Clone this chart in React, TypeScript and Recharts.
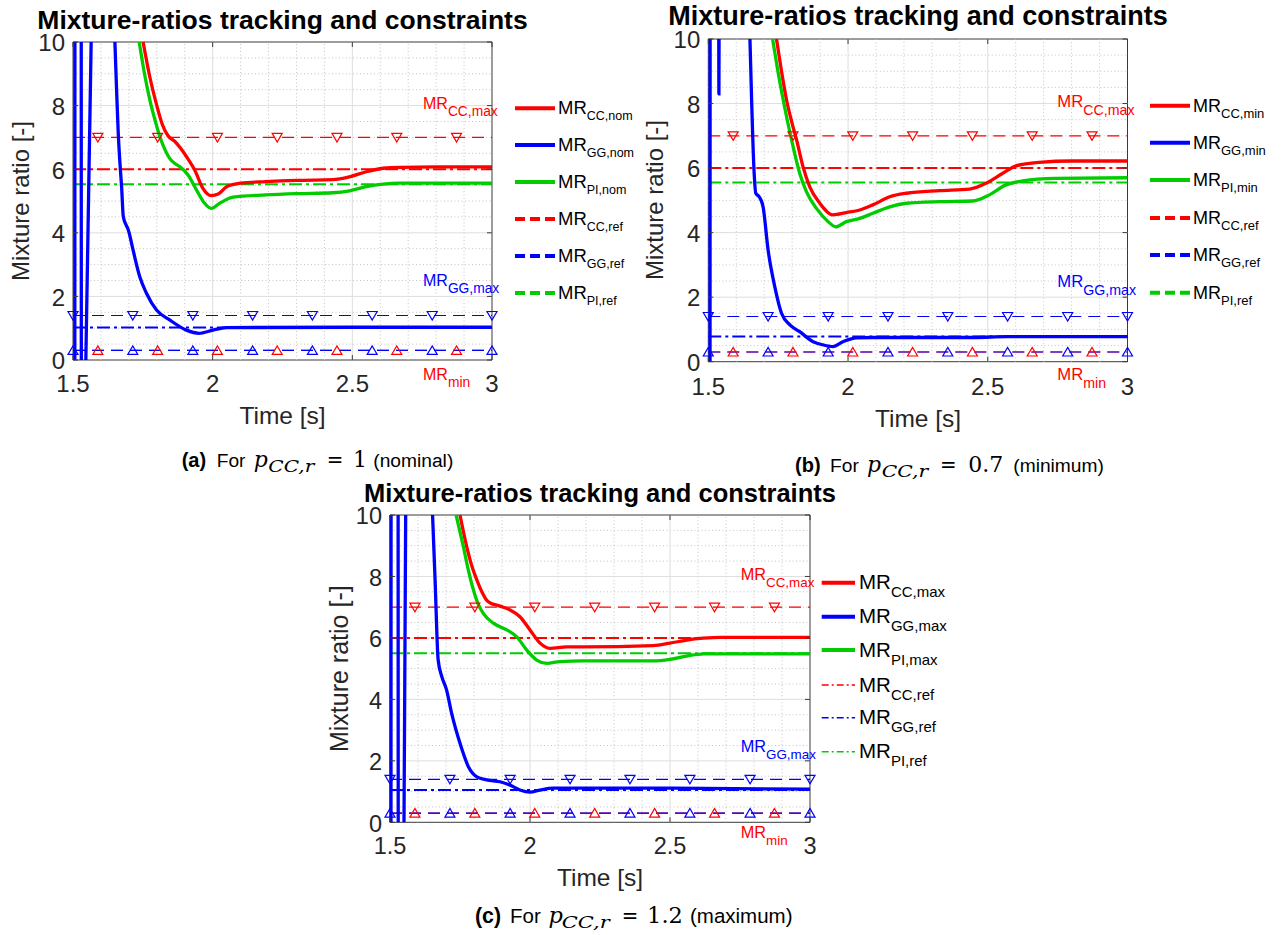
import React from 'react';
import { LineChart, Line, XAxis, YAxis, ReferenceLine, ReferenceArea } from 'recharts';

const RED = '#ff0000';
const BLUE = '#0000ff';
const GREEN = '#00cc00';
const AXIS = '#3a3a3a';
const TICK = '#262626';
const GRID_MAJOR = '#dedede';
const GRID_MINOR = '#c4c4c4';
const SANS = '"Liberation Sans", Arial, Helvetica, sans-serif';
const SERIF = '"DejaVu Serif", "Liberation Serif", serif';

// ---- axes ----
const X_DOMAIN = [1.5, 3];
const Y_DOMAIN = [0, 10];
const X_TICKS = [1.5, 2, 2.5, 3];
const Y_TICKS = [0, 2, 4, 6, 8, 10];
const X_MAJOR_GRID = [2, 2.5];
const Y_MAJOR_GRID = [2, 4, 6, 8];
const X_MINOR_GRID = [1.6, 1.7, 1.8, 1.9, 2.1, 2.2, 2.3, 2.4, 2.6, 2.7, 2.8, 2.9];
const Y_MINOR_GRID = [0.5, 1, 1.5, 2.5, 3, 3.5, 4.5, 5, 5.5, 6.5, 7, 7.5, 8.5, 9, 9.5];

// ---- constraints ----
const MR_CC_MAX = 7;
const MR_GG_MAX = 1.4;
const MR_MIN = 0.3;
const CONSTRAINT_T = [1.5, 3];
const CC_MARKER_T = [1.589, 1.803, 2.017, 2.231, 2.445, 2.659, 2.873];
const GG_MARKER_T = [1.5, 1.714, 1.929, 2.143, 2.357, 2.571, 2.786, 3.0];

// ---- panel (a) nominal ----
const A_REF_CC = 6.0;
const A_REF_GG = 1.02;
const A_REF_PI = 5.53;
const A_CC_T = [1.751, 1.775, 1.8, 1.82, 1.84, 1.864, 1.886, 1.906, 1.936, 1.965, 1.995, 2.02, 2.05, 2.1, 2.19, 2.3, 2.43, 2.49, 2.55, 2.61, 2.67, 2.8, 3.0];
const A_CC_V = [10, 8.9, 8.0, 7.4, 7.05, 6.88, 6.65, 6.4, 5.97, 5.4, 5.17, 5.22, 5.45, 5.56, 5.61, 5.65, 5.67, 5.76, 5.92, 6.03, 6.06, 6.07, 6.07];
const A_PI_T = [1.737, 1.756, 1.775, 1.795, 1.811, 1.83, 1.846, 1.865, 1.882, 1.912, 1.942, 1.971, 1.995, 2.025, 2.073, 2.19, 2.3, 2.43, 2.49, 2.55, 2.61, 2.67, 3.0];
const A_PI_V = [10, 9.0, 8.18, 7.5, 7.02, 6.6, 6.34, 6.18, 6.08, 5.82, 5.35, 4.93, 4.77, 4.93, 5.12, 5.19, 5.23, 5.26, 5.32, 5.45, 5.53, 5.56, 5.56];
const A_GG_T = [1.5065, 1.5068, 1.518, 1.5295, 1.5298, 1.538, 1.546, 1.565, 1.6, 1.65, 1.656, 1.662, 1.668, 1.674, 1.68, 1.69, 1.698, 1.715, 1.739, 1.763, 1.799, 1.846, 1.906, 1.951, 2.001, 2.049, 2.5, 3.0];
const A_GG_V = [0, 10, null, 10, 0, null, 0, 10, null, 10, 8.5, 7.13, 6.2, 5.45, 4.51, 4.25, 4.09, 3.46, 2.62, 2.1, 1.57, 1.26, 0.94, 0.84, 0.94, 1.02, 1.03, 1.03];

// ---- panel (b) minimum ----
const B_REF_CC = 6.0;
const B_REF_GG = 0.78;
const B_REF_PI = 5.55;
const B_CC_T = [1.744, 1.762, 1.78, 1.798, 1.816, 1.839, 1.863, 1.899, 1.946, 1.994, 2.042, 2.089, 2.149, 2.209, 2.328, 2.435, 2.494, 2.554, 2.601, 2.684, 2.8, 3.0];
const B_CC_V = [10, 9.0, 8.11, 7.45, 6.87, 6.04, 5.42, 4.91, 4.55, 4.62, 4.7, 4.86, 5.11, 5.22, 5.3, 5.35, 5.53, 5.84, 6.07, 6.18, 6.22, 6.22];
const B_PI_T = [1.73, 1.749, 1.768, 1.798, 1.827, 1.851, 1.887, 1.929, 1.956, 1.994, 2.042, 2.089, 2.149, 2.209, 2.328, 2.446, 2.506, 2.565, 2.625, 2.74, 3.0];
const B_PI_V = [10, 9.0, 8.11, 6.87, 5.84, 5.27, 4.75, 4.34, 4.18, 4.34, 4.44, 4.6, 4.8, 4.91, 4.96, 4.98, 5.17, 5.48, 5.6, 5.68, 5.7];
const B_GG_T = [1.5062, 1.5065, 1.52, 1.5375, 1.538, 1.5385, 1.6, 1.649, 1.655, 1.663, 1.67, 1.682, 1.696, 1.714, 1.738, 1.762, 1.792, 1.827, 1.875, 1.911, 1.946, 1.982, 2.03, 2.09, 2.45, 2.57, 3.0];
const B_GG_V = [0, 10, null, 10, 8.3, 10, null, 10, 8.11, 6.04, 5.22, 5.11, 4.8, 3.46, 2.32, 1.5, 1.14, 0.93, 0.62, 0.52, 0.47, 0.62, 0.74, 0.75, 0.75, 0.78, 0.78];

// ---- panel (c) maximum ----
const C_REF_CC = 6.0;
const C_REF_GG = 1.05;
const C_REF_PI = 5.5;
const C_CC_T = [1.75, 1.774, 1.792, 1.81, 1.828, 1.845, 1.862, 1.881, 1.905, 1.929, 1.964, 2.0, 2.036, 2.071, 2.131, 2.19, 2.44, 2.5, 2.56, 2.619, 2.68, 3.0];
const C_CC_V = [10, 8.97, 8.35, 7.89, 7.5, 7.23, 7.12, 7.07, 7.0, 6.91, 6.69, 6.26, 5.83, 5.66, 5.71, 5.71, 5.75, 5.83, 5.93, 5.99, 6.02, 6.02];
const C_PI_T = [1.736, 1.762, 1.78, 1.798, 1.815, 1.833, 1.869, 1.917, 1.952, 1.988, 2.024, 2.06, 2.107, 2.19, 2.44, 2.5, 2.56, 2.62, 3.0];
const C_PI_V = [10, 8.97, 8.2, 7.56, 7.1, 6.8, 6.48, 6.26, 6.04, 5.61, 5.28, 5.17, 5.23, 5.25, 5.25, 5.3, 5.41, 5.48, 5.48];
const C_GG_T = [1.5035, 1.5038, 1.516, 1.529, 1.5293, 1.54, 1.55, 1.556, 1.6, 1.652, 1.661, 1.672, 1.685, 1.702, 1.72, 1.75, 1.78, 1.81, 1.845, 1.893, 1.929, 1.964, 2.0, 2.036, 2.083, 2.44, 3.0];
const C_GG_V = [0, 10, null, 10, 0, null, 0, 10, null, 10, 7.89, 5.28, 4.74, 4.31, 3.55, 2.57, 1.81, 1.48, 1.38, 1.32, 1.21, 1.05, 0.98, 1.05, 1.11, 1.11, 1.08];

const pts = (t: number[], v: (number | null)[]) => t.map((x, i) => ({ x, y: v[i] }));
const flat = (t: number[], value: number) => t.map((x) => ({ x, y: value }));

const triDown = (color: string) => (props: any) => {
  const { cx, cy, index } = props;
  if (cx == null || cy == null) return <g key={`n${index}`} />;
  return (
    <path key={`td${index}`} d={`M${cx - 5},${cy - 4} L${cx + 5},${cy - 4} L${cx},${cy + 4.6} Z`}
      fill="none" stroke={color} strokeWidth={1.2} />
  );
};
const triUp = (color: string) => (props: any) => {
  const { cx, cy, index } = props;
  if (cx == null || cy == null) return <g key={`n${index}`} />;
  return (
    <path key={`tu${index}`} d={`M${cx - 5},${cy + 4} L${cx + 5},${cy + 4} L${cx},${cy - 4.6} Z`}
      fill="none" stroke={color} strokeWidth={1.2} />
  );
};

const DASH = '12 7';
const DASHDOT = '13 4 3 4';

function Panel(p: any) {
  const plotW = p.plot.r - p.plot.l;
  const plotH = p.plot.b - p.plot.t;
  const xTick = (props: any) => {
    const { x, y, payload } = props;
    return (
      <g>
        <line x1={x} x2={x} y1={y} y2={y - 5} stroke={AXIS} strokeWidth={1} />
        <line x1={x} x2={x} y1={y - plotH} y2={y - plotH + 5} stroke={AXIS} strokeWidth={1} />
        <text x={x} y={y + p.xTickDy} textAnchor="middle" fontSize={p.tickFs} fill={TICK} fontFamily={SANS}>
          {String(payload.value)}
        </text>
      </g>
    );
  };
  const yTick = (props: any) => {
    const { x, y, payload } = props;
    return (
      <g>
        <line x1={x} x2={x + 5} y1={y} y2={y} stroke={AXIS} strokeWidth={1} />
        <line x1={x + plotW} x2={x + plotW - 5} y1={y} y2={y} stroke={AXIS} strokeWidth={1} />
        <text x={x - 8} y={y + 9.3} textAnchor="end" fontSize={p.tickFs} fill={TICK} fontFamily={SANS}>
          {String(payload.value)}
        </text>
      </g>
    );
  };
  const common = { dataKey: 'y', dot: false, activeDot: false, isAnimationActive: false, legendType: 'none' as const };
  return (
    <div style={{ position: 'absolute', left: p.box.left, top: p.box.top, width: p.box.width, height: p.box.height }}>
      <LineChart width={p.box.width} height={p.box.height} margin={p.margin}>
        <XAxis type="number" dataKey="x" domain={X_DOMAIN} ticks={X_TICKS} interval={0} height={30}
          axisLine={false} tickLine={false} tickSize={0} tickMargin={0} tick={xTick} />
        <YAxis type="number" domain={Y_DOMAIN} ticks={Y_TICKS} interval={0} width={60}
          axisLine={false} tickLine={false} tickSize={0} tickMargin={0} tick={yTick} />
        {X_MINOR_GRID.map((v) => (
          <ReferenceLine key={`xm${v}`} x={v} stroke={GRID_MINOR} strokeWidth={1} strokeDasharray="1 2.5" />
        ))}
        {Y_MINOR_GRID.map((v) => (
          <ReferenceLine key={`ym${v}`} y={v} stroke={GRID_MINOR} strokeWidth={1} strokeDasharray="1 2.5" />
        ))}
        {X_MAJOR_GRID.map((v) => (
          <ReferenceLine key={`xM${v}`} x={v} stroke={GRID_MAJOR} strokeWidth={1} />
        ))}
        {Y_MAJOR_GRID.map((v) => (
          <ReferenceLine key={`yM${v}`} y={v} stroke={GRID_MAJOR} strokeWidth={1} />
        ))}
        <ReferenceArea x1={1.5} x2={3} y1={0} y2={10} fill="none" fillOpacity={0} stroke={AXIS} strokeWidth={1} />

        {/* constraints */}
        <Line {...common} data={flat(CONSTRAINT_T, MR_CC_MAX)} stroke={RED} strokeWidth={1.2} strokeDasharray={DASH} />
        <Line {...common} data={flat(CONSTRAINT_T, MR_GG_MAX)} stroke={BLUE} strokeWidth={1.2} strokeDasharray={DASH} />
        <Line {...common} data={flat(CONSTRAINT_T, MR_MIN)} stroke={RED} strokeWidth={1.2} strokeDasharray={DASH} />
        <Line {...common} data={flat(CONSTRAINT_T, MR_MIN)} stroke={BLUE} strokeWidth={1.2} strokeDasharray={DASH} />

        {/* references */}
        <Line {...common} data={flat(CONSTRAINT_T, p.refCC)} stroke={RED} strokeWidth={2} strokeDasharray={DASHDOT} />
        <Line {...common} data={flat(CONSTRAINT_T, p.refGG)} stroke={BLUE} strokeWidth={2} strokeDasharray={DASHDOT} />
        <Line {...common} data={flat(CONSTRAINT_T, p.refPI)} stroke={GREEN} strokeWidth={2} strokeDasharray={DASHDOT} />

        {/* measured mixture ratios */}
        <Line {...common} type="monotone" data={p.cc} stroke={RED} strokeWidth={3.3} />
        <Line {...common} type="monotone" data={p.gg} stroke={BLUE} strokeWidth={3.3} />
        <Line {...common} type="monotone" data={p.pi} stroke={GREEN} strokeWidth={3.3} />

        {/* constraint markers */}
        <Line {...common} data={flat(CC_MARKER_T, MR_CC_MAX)} stroke="none" dot={triDown(RED)} />
        <Line {...common} data={flat(GG_MARKER_T, MR_GG_MAX)} stroke="none" dot={triDown(BLUE)} />
        <Line {...common} data={flat(CC_MARKER_T, MR_MIN)} stroke="none" dot={triUp(RED)} />
        <Line {...common} data={flat(GG_MARKER_T, MR_MIN)} stroke="none" dot={triUp(BLUE)} />
      </LineChart>
    </div>
  );
}

function MR(props: any) {
  const { x, y, fs, subFs, dy, sub, color } = props;
  return (
    <text x={x} y={y} fontSize={fs} fill={color} fontFamily={SANS}>
      MR<tspan dy={dy} fontSize={subFs}>{sub}</tspan>
    </text>
  );
}

function LegendBlock(props: any) {
  const { rows, x1, x2, tx, fs, subFs, dy, subs, refStyle } = props;
  const colors = [RED, BLUE, GREEN, RED, BLUE, GREEN];
  return (
    <g>
      {rows.map((ry: number, i: number) => {
        const isRef = i >= 3;
        return (
          <g key={`lg${i}`}>
            <line x1={x1} x2={x2} y1={ry} y2={ry} stroke={colors[i]}
              strokeWidth={isRef ? refStyle.w : 4}
              strokeDasharray={isRef ? refStyle.dash : undefined} />
            <MR x={tx} y={ry + fs * 0.33} fs={fs} subFs={subFs} dy={dy} sub={subs[i]} color="#000" />
          </g>
        );
      })}
    </g>
  );
}

function Caption(props: any) {
  const { y, fs, mfs, parts } = props;
  return (
    <g>
      <text x={parts.label[0]} y={y} fontSize={fs + 0.8} fontWeight="bold" fontFamily={SANS} fill="#000">{parts.label[1]}</text>
      <text x={parts.forX} y={y} fontSize={fs} fontFamily={SANS} fill="#000">For</text>
      <text x={parts.pX} y={y} fontSize={mfs} fontStyle="italic" fontFamily={SERIF} textAnchor="middle" fill="#000">p</text>
      <text x={parts.subX} y={y + 4.4} fontSize={mfs * 0.72} fontStyle="italic" fontFamily={SERIF} fill="#000"
        textLength={parts.subW} lengthAdjust="spacingAndGlyphs">CC,r</text>
      <text x={parts.eqX} y={y} fontSize={mfs} fontFamily={SERIF} textAnchor="middle" fill="#000"
        textLength={parts.eqW} lengthAdjust="spacingAndGlyphs">=</text>
      <text x={parts.numX} y={y} fontSize={mfs} fontFamily={SERIF} textAnchor="middle" fill="#000">{parts.num}</text>
      <text x={parts.tailX} y={y} fontSize={fs} fontFamily={SANS} fill="#000">{parts.tail}</text>
    </g>
  );
}

const TITLE = 'Mixture-ratios tracking and constraints';

export default function App() {
  const refLegendAB = { w: 4, dash: '10 5' };
  const refLegendC = { w: 1.6, dash: '7 3 2 3' };
  return (
    <div style={{ position: 'absolute', left: 0, top: 0, width: 1282, height: 935, background: '#fff', fontFamily: SANS }}>
      <Panel
        box={{ left: 0, top: 0, width: 640, height: 440 }}
        margin={{ top: 42, left: 13, right: 148, bottom: 50 }}
        plot={{ l: 73, t: 42, r: 492, b: 360 }}
        xTickDy={31.7} tickFs={24}
        refCC={A_REF_CC} refGG={A_REF_GG} refPI={A_REF_PI}
        cc={pts(A_CC_T, A_CC_V)} gg={pts(A_GG_T, A_GG_V)} pi={pts(A_PI_T, A_PI_V)}
      />
      <Panel
        box={{ left: 640, top: 0, width: 642, height: 440 }}
        margin={{ top: 39, left: 8.3, right: 154.5, bottom: 48.3 }}
        plot={{ l: 708.3, t: 39, r: 1127.5, b: 361.7 }}
        xTickDy={33.3} tickFs={24}
        refCC={B_REF_CC} refGG={B_REF_GG} refPI={B_REF_PI}
        cc={pts(B_CC_T, B_CC_V)} gg={pts(B_GG_T, B_GG_V)} pi={pts(B_PI_T, B_PI_V)}
      />
      <Panel
        box={{ left: 320, top: 470, width: 640, height: 465 }}
        margin={{ top: 45, left: 10, right: 150, bottom: 82.7 }}
        plot={{ l: 390, t: 515, r: 810, b: 822.3 }}
        xTickDy={31.5} tickFs={23.5}
        refCC={C_REF_CC} refGG={C_REF_GG} refPI={C_REF_PI}
        cc={pts(C_CC_T, C_CC_V)} gg={pts(C_GG_T, C_GG_V)} pi={pts(C_PI_T, C_PI_V)}
      />
      <svg width={1282} height={935} style={{ position: 'absolute', left: 0, top: 0, pointerEvents: 'none' }}>
        {/* titles */}
        <text x={282.5} y={28.5} fontSize={26.5} fontWeight="bold" textAnchor="middle" fontFamily={SANS} fill="#000">{TITLE}</text>
        <text x={918} y={25} fontSize={27} fontWeight="bold" textAnchor="middle" fontFamily={SANS} fill="#000">{TITLE}</text>
        <text x={600} y={501.5} fontSize={25.5} fontWeight="bold" textAnchor="middle" fontFamily={SANS} fill="#000">{TITLE}</text>

        {/* axis labels */}
        <text transform="translate(28.5,201) rotate(-90)" fontSize={24} textAnchor="middle" fontFamily={SANS} fill={TICK}>Mixture ratio [-]</text>
        <text transform="translate(662.7,200) rotate(-90)" fontSize={24} textAnchor="middle" fontFamily={SANS} fill={TICK}>Mixture ratio [-]</text>
        <text transform="translate(348,668.7) rotate(-90)" fontSize={25} textAnchor="middle" fontFamily={SANS} fill={TICK}>Mixture ratio [-]</text>
        <text x={282.5} y={424} fontSize={24.5} textAnchor="middle" fontFamily={SANS} fill={TICK}>Time [s]</text>
        <text x={918} y={427} fontSize={24.5} textAnchor="middle" fontFamily={SANS} fill={TICK}>Time [s]</text>
        <text x={600} y={886} fontSize={24.5} textAnchor="middle" fontFamily={SANS} fill={TICK}>Time [s]</text>

        {/* constraint annotations */}
        <MR x={423} y={109.3} fs={16} subFs={13.8} dy={7} sub="CC,max" color={RED} />
        <MR x={423} y={286} fs={16} subFs={13.8} dy={7} sub="GG,max" color={BLUE} />
        <MR x={423} y={380} fs={16} subFs={13.8} dy={7} sub="min" color={RED} />
        <MR x={1057.3} y={107.3} fs={16.7} subFs={14.2} dy={7.5} sub="CC,max" color={RED} />
        <MR x={1057.3} y={287.3} fs={16.7} subFs={14.2} dy={7.5} sub="GG,max" color={BLUE} />
        <MR x={1057.3} y={380} fs={16.7} subFs={14.2} dy={7.5} sub="min" color={RED} />
        <MR x={740.7} y={580} fs={16.3} subFs={13.4} dy={7} sub="CC,max" color={RED} />
        <MR x={740.7} y={751.7} fs={16.3} subFs={13.4} dy={7} sub="GG,max" color={BLUE} />
        <MR x={740.7} y={838.3} fs={16.3} subFs={13.4} dy={7} sub="min" color={RED} />

        {/* legends */}
        <LegendBlock rows={[108.3, 145, 182, 219, 256, 293]} x1={515} x2={555} tx={558} fs={18.5} subFs={12.5} dy={5.5}
          subs={['CC,nom', 'GG,nom', 'PI,nom', 'CC,ref', 'GG,ref', 'PI,ref']} refStyle={refLegendAB} />
        <LegendBlock rows={[105.7, 142.7, 180, 218, 255, 292.7]} x1={1150} x2={1190} tx={1193} fs={18} subFs={13} dy={6.5}
          subs={['CC,min', 'GG,min', 'PI,min', 'CC,ref', 'GG,ref', 'PI,ref']} refStyle={refLegendAB} />
        <LegendBlock rows={[582.7, 616.7, 650, 685, 717.7, 751.7]} x1={821.7} x2={855} tx={859} fs={20.5} subFs={15} dy={8}
          subs={['CC,max', 'GG,max', 'PI,max', 'CC,ref', 'GG,ref', 'PI,ref']} refStyle={refLegendC} />

        {/* captions */}
        <Caption y={467.3} fs={19.2} mfs={22}
          parts={{ label: [181.7, '(a)'], forX: 216.7, pX: 260.8, subX: 268.3, subW: 46, eqX: 335, eqW: 16.6, numX: 360, num: '1', tailX: 373.3, tail: '(nominal)' }} />
        <Caption y={472.3} fs={19.2} mfs={22}
          parts={{ label: [795, '(b)'], forX: 830, pX: 874, subX: 881.7, subW: 46.5, eqX: 948.3, eqW: 16.6, numX: 985.8, num: '0.7', tailX: 1013.3, tail: '(minimum)' }} />
        <Caption y={923.3} fs={20.5} mfs={22.5}
          parts={{ label: [475, '(c)'], forX: 510, pX: 555.8, subX: 561.7, subW: 48, eqX: 630, eqW: 16.6, numX: 665, num: '1.2', tailX: 690, tail: '(maximum)' }} />
      </svg>
    </div>
  );
}
